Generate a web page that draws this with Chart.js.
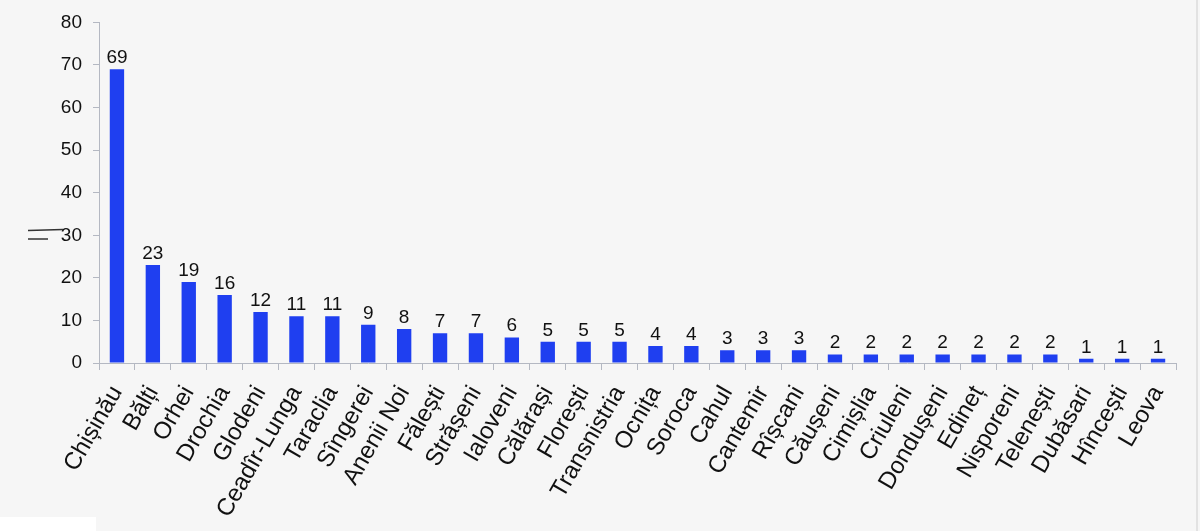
<!DOCTYPE html>
<html lang="ro">

<head>
  <meta charset="UTF-8">
  <title>Cazuri pe raioane</title>
  <script src="https://cdn.jsdelivr.net/npm/chart.js"></script>
  <style>
    html, body { margin: 0; padding: 0; background: #f6f6f6; }
    .grafic { position: relative; width: 1200px; height: 531px; }
    .colt { position: absolute; left: 0; bottom: 0; width: 96px; height: 14px; background: #fff; }
    .margine { position: absolute; right: 2px; top: 0; width: 2px; height: 531px; background: #e2e2e2; }
  </style>
</head>

<body>
  <div class="grafic">
    <canvas id="graficRaioane" width="1200" height="531"></canvas>
    <div class="colt"></div>
    <div class="margine"></div>
  </div>

  <script>
    const raioane = ["Chișinău", "Bălți", "Orhei", "Drochia", "Glodeni", "Ceadîr-Lunga", "Taraclia", "Sîngerei",
      "Anenii Noi", "Fălești", "Strășeni", "Ialoveni", "Călărași", "Florești", "Transnistria", "Ocnița", "Soroca",
      "Cahul", "Cantemir", "Rîșcani", "Căușeni", "Cimișlia", "Criuleni", "Dondușeni", "Edineț", "Nisporeni",
      "Telenești", "Dubăsari", "Hîncești", "Leova"];
    const cazuri = [69, 23, 19, 16, 12, 11, 11, 9, 8, 7, 7, 6, 5, 5, 5, 4, 4, 3, 3, 3, 2, 2, 2, 2, 2, 2, 2, 1, 1, 1];
    const yMax = 80;
    const yPas = 10;

    const fonte = "'Liberation Sans', Arial, sans-serif";

    // numerele de deasupra barelor + semnul "=" din stanga
    const etichete = {
      id: "etichete",
      afterDatasetsDraw(chart) {
        const ctx = chart.ctx;
        const meta = chart.getDatasetMeta(0);
        ctx.save();
        ctx.fillStyle = "#111";
        ctx.font = "19px " + fonte;
        ctx.textAlign = "center";
        ctx.textBaseline = "alphabetic";
        meta.data.forEach((bara, i) => {
          ctx.fillText(cazuri[i], bara.x, bara.y - 6);
        });
        ctx.strokeStyle = "#333";
        ctx.lineWidth = 1.6;
        ctx.beginPath();
        ctx.moveTo(28, 230.5); ctx.lineTo(63, 229.5);
        ctx.moveTo(28, 239); ctx.lineTo(48, 239);
        ctx.stroke();
        ctx.restore();
      }
    };

    new Chart(document.getElementById("graficRaioane"), {
      type: "bar",
      data: {
        labels: raioane,
        datasets: [{
          data: cazuri,
          backgroundColor: "#1f3ff0",
          categoryPercentage: 1,
          barPercentage: 0.4
        }]
      },
      options: {
        responsive: false,
        animation: false,
        layout: { padding: { top: 21, right: 24, left: 0, bottom: 0 } },
        plugins: { legend: { display: false }, tooltip: { enabled: false } },
        scales: {
          x: {
            afterFit: s => { s.height = 168; },
            border: { color: "#b4b8c2", width: 1 },
            grid: { offset: true, drawOnChartArea: false, tickLength: 7, color: "#b4b8c2" },
            ticks: {
              autoSkip: false,
              minRotation: 60,
              maxRotation: 60,
              padding: 11,
              color: "#111",
              font: { family: fonte, size: 24 }
            }
          },
          y: {
            min: 0,
            max: yMax,
            afterFit: s => { s.width = 99; },
            border: { color: "#b4b8c2", width: 1 },
            grid: { drawOnChartArea: false, tickLength: 6, color: "#b4b8c2" },
            ticks: {
              stepSize: yPas,
              padding: 11,
              color: "#111",
              font: { family: fonte, size: 19 }
            }
          }
        }
      },
      plugins: [etichete]
    });
  </script>
</body>

</html>
